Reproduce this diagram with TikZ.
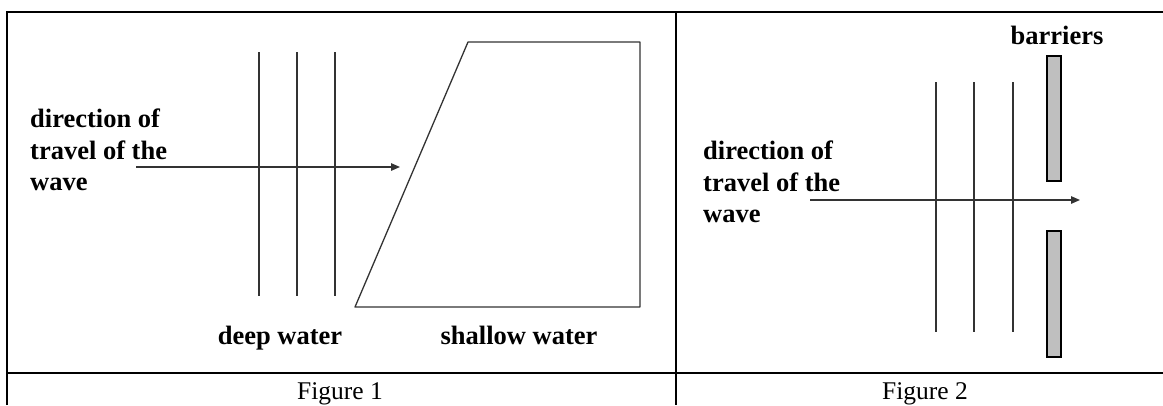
\documentclass[tikz,border=0pt]{standalone}
\usepackage{fontspec}
\setmainfont{Liberation Serif}
\usetikzlibrary{arrows.meta}
\begin{document}
\begin{tikzpicture}[x=1pt,y={(0,-1pt)},
  tableline/.style={line width=2.2pt,black},
  wavefront/.style={line width=1.5pt,draw=black!80},
  shoreline/.style={line width=1.3pt,draw=black!80},
  travel/.style={line width=1.3pt,draw=black!80,-{Triangle[length=9pt,width=7.5pt]}},
  barrier/.style={line width=2pt,draw=black,fill=black!25},
  lbl/.style={inner sep=0pt,font=\fontsize{26.5}{31.5}\selectfont\bfseries,align=left},
  captext/.style={inner sep=0pt,font=\fontsize{25.5}{30}\selectfont}]
\useasboundingbox (0,0) rectangle (1163,405);
% table
\draw[tableline] (7,405) -- (7,12) -- (1163,12);
\draw[tableline] (7,373) -- (1163,373);
\draw[tableline] (676,12) -- (676,405);
\node[captext,anchor=base] (cap1) at (340,399) {Figure 1};
\node[captext,anchor=base] (cap2) at (925,399) {Figure 2};
% Figure 1
\node[lbl,anchor=north west] (dir1) at (30,109) {direction of\\travel of the\\wave};
\foreach \x [count=\i] in {259,297,335} {
  \coordinate (w1t\i) at (\x,52);
  \coordinate (w1b\i) at (\x,296);
  \draw[wavefront] (w1t\i) -- (w1b\i);
}
\coordinate (a1s) at (136,167);
\coordinate (a1e) at (400,167);
\draw[travel] (a1s) -- (a1e);
\coordinate (tbl) at (355,307);
\coordinate (ttl) at (468,42);
\coordinate (ttr) at (640,42);
\coordinate (tbr) at (640,307);
\draw[shoreline,line join=round] (tbl) -- (ttl) -- (ttr) -- (tbr) -- cycle;
\node[lbl,anchor=base] (deep) at (280,344) {deep water};
\node[lbl,anchor=base] (shallow) at (519,344) {shallow water};
% Figure 2
\node[lbl,anchor=north west] (dir2) at (703,141) {direction of\\travel of the\\wave};
\node[lbl,anchor=base] (barr) at (1057,44) {barriers};
\foreach \x [count=\i] in {936,974,1013} {
  \coordinate (w2t\i) at (\x,82);
  \coordinate (w2b\i) at (\x,332);
  \draw[wavefront] (w2t\i) -- (w2b\i);
}
\draw[barrier] (1047,56) rectangle (1061,181);
\draw[barrier] (1047,231) rectangle (1061,357);
\coordinate (a2s) at (810,200);
\coordinate (a2e) at (1080,200);
\draw[travel] (a2s) -- (a2e);
\end{tikzpicture}
\end{document}
